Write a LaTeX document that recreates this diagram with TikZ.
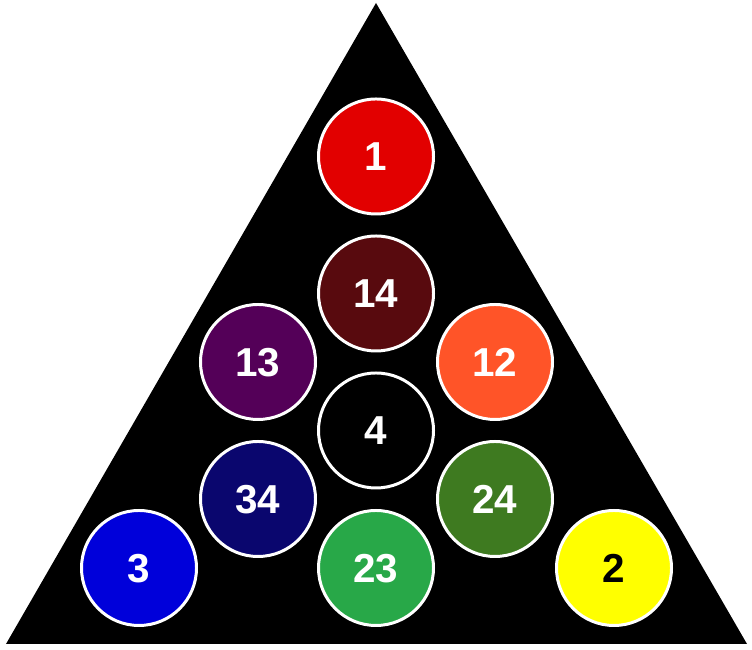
\documentclass[tikz,border=0pt]{standalone}
\usepackage{fontspec}
\setmainfont{Liberation Sans}
\usepackage{tikz}
\definecolor{cred}{RGB}{226,0,0}
\definecolor{cmaroon}{RGB}{88,10,14}
\definecolor{cpurple}{RGB}{84,0,88}
\definecolor{corange}{RGB}{255,84,40}
\definecolor{cnavy}{RGB}{10,6,110}
\definecolor{colive}{RGB}{62,122,32}
\definecolor{cblue}{RGB}{0,0,218}
\definecolor{cgreen}{RGB}{40,168,72}
\definecolor{cyellow}{RGB}{255,255,0}
\tikzset{
    ball/.style={circle, draw=white, line width=1.7pt, fill=#1, minimum size=2.3cm, inner sep=0pt,
        text=white, text depth=-0.08cm, font=\fontsize{23}{23}\selectfont\bfseries}
}

\begin{document}
\begin{tikzpicture}
    \useasboundingbox(0, 0) rectangle (15.04, 13);
    \fill(0.12, 0.12)--(14.94, 0.12)--(7.52, 12.94)--cycle;
    \node[ball=cred](n1)at(7.52, 9.87){1};
    \node[ball=cmaroon](n14)at(7.52, 7.13){14};
    \node[ball=cpurple](n13)at(5.16, 5.76){13};
    \node[ball=corange](n12)at(9.90, 5.76){12};
    \node[ball=black](n4)at(7.52, 4.39){4};
    \node[ball=cnavy](n34)at(5.16, 3.02){34};
    \node[ball=colive](n24)at(9.90, 3.02){24};
    \node[ball=cblue](n3)at(2.78, 1.64){3};
    \node[ball=cgreen](n23)at(7.52, 1.64){23};
    \node[ball=cyellow, text=black](n2)at(12.28, 1.64){2};
\end{tikzpicture}
\end{document}
